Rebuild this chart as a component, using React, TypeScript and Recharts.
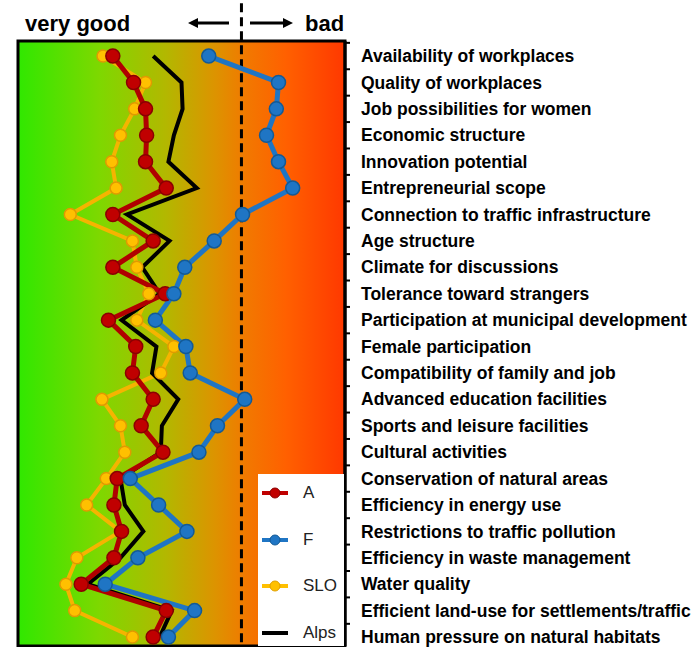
import React from 'react';
import { LineChart, Line, XAxis, YAxis, ReferenceArea, ReferenceLine, Legend, Customized } from 'recharts';

const categories = [
  'Availability of workplaces',
  'Quality of workplaces',
  'Job possibilities for women',
  'Economic structure',
  'Innovation potential',
  'Entrepreneurial scope',
  'Connection to traffic infrastructure',
  'Age structure',
  'Climate for discussions',
  'Tolerance toward strangers',
  'Participation at municipal development',
  'Female participation',
  'Compatibility of family and job',
  'Advanced education facilities',
  'Sports and leisure facilities',
  'Cultural activities',
  'Conservation of natural areas',
  'Efficiency in energy use',
  'Restrictions to traffic pollution',
  'Efficiency in waste management',
  'Water quality',
  'Efficient land-use for settlements/traffic',
  'Human pressure on natural habitats',
];

const seriesA = [1.87, 2.06, 2.17, 2.18, 2.17, 2.36, 1.87, 2.24, 1.87, 2.35, 1.83, 2.08, 2.05, 2.24, 2.13, 2.33, 1.91, 1.88, 1.95, 1.88, 1.58, 2.36, 2.24];
const seriesF = [2.75, 3.39, 3.37, 3.28, 3.39, 3.52, 3.06, 2.8, 2.53, 2.43, 2.26, 2.54, 2.58, 3.08, 2.83, 2.66, 2.03, 2.29, 2.55, 2.1, 1.8, 2.62, 2.38];
const seriesSLO = [1.78, 2.17, 2.07, 1.94, 1.86, 1.9, 1.48, 2.05, 2.09, 2.2, 2.09, 2.43, 2.31, 1.77, 1.94, 1.98, 1.81, 1.63, 1.94, 1.54, 1.44, 1.52, 2.05];
const seriesAlps = [2.24, 2.5, 2.51, 2.43, 2.38, 2.64, 2.0, 2.39, 2.14, 2.3, 1.95, 2.27, 2.23, 2.47, 2.32, 2.31, 1.94, 1.98, 2.15, 1.94, 1.64, 2.41, 2.3];

const xDomain: [number, number] = [1, 4];
const threshold = 3.05;
const headerLeft = 'very good';
const headerRight = 'bad';

const data = categories.map((label, i) => ({
  pos: i + 1,
  label,
  A: seriesA[i],
  F: seriesF[i],
  SLO: seriesSLO[i],
  Alps: seriesAlps[i],
}));

const ticks: number[] = [];
categories.forEach((_, i) => {
  ticks.push(i + 0.5);
  ticks.push(i + 1);
});

const legendItems = [
  { name: 'A', color: '#c00000', stroke: '#8a0000', marker: true },
  { name: 'F', color: '#1f75c4', stroke: '#135a96', marker: true },
  { name: 'SLO', color: '#ffc000', stroke: '#e0a000', marker: true },
  { name: 'Alps', color: '#000000', stroke: '#000000', marker: false },
];

const RightTick = (props: any) => {
  const { x, y, payload } = props;
  const v = payload.value;
  if (Math.abs(v - Math.round(v)) > 0.01) {
    return <line x1={x} y1={y} x2={x + 5} y2={y} stroke="#000" strokeWidth={2} />;
  }
  const label = categories[Math.round(v) - 1] ?? '';
  return (
    <text
      x={x + 16}
      y={y}
      dy="0.35em"
      textAnchor="start"
      fontFamily="'Liberation Sans', Arial, sans-serif"
      fontWeight={700}
      fontSize={17.5}
      fill="#000"
    >
      {label}
    </text>
  );
};

const GradientShape = (props: any) => {
  const { x, y, width, height } = props;
  return (
    <g>
      <defs>
        <linearGradient id="bgGrad" x1="0" y1="0" x2="1" y2="0">
          <stop offset="0" stopColor="#30e800" />
          <stop offset="0.25" stopColor="#7ed800" />
          <stop offset="0.45" stopColor="#b2b800" />
          <stop offset="0.6" stopColor="#dc9400" />
          <stop offset="0.7" stopColor="#f27800" />
          <stop offset="0.82" stopColor="#ff6000" />
          <stop offset="1" stopColor="#ff3800" />
        </linearGradient>
      </defs>
      <rect x={x} y={y} width={width} height={height} fill="url(#bgGrad)" />
    </g>
  );
};

const FrameShape = (props: any) => {
  const { x, y, width, height } = props;
  return <rect x={x} y={y} width={width} height={height} fill="none" stroke="#000" strokeWidth={3} />;
};

const Header = () => (
  <g>
    <text x={25} y={31} fontFamily="'Liberation Sans', Arial, sans-serif" fontWeight={700} fontSize={22} fill="#000">
      {headerLeft}
    </text>
    <text x={305} y={31} fontFamily="'Liberation Sans', Arial, sans-serif" fontWeight={700} fontSize={22} fill="#000">
      {headerRight}
    </text>
    <line x1={196} y1={23} x2={229} y2={23} stroke="#000" strokeWidth={3} />
    <polygon points="188,23 198,18 198,28" fill="#000" />
    <line x1={250} y1={23} x2={284} y2={23} stroke="#000" strokeWidth={3} />
    <polygon points="293,23 283,18 283,28" fill="#000" />
  </g>
);

const LegendContent = () => (
  <div style={{ position: 'relative', width: 86, height: 172, background: '#fff' }}>
    {legendItems.map((it, i) => (
      <div
        key={it.name}
        style={{ position: 'absolute', left: 0, top: 19 + i * 46.7 - 12, height: 24, display: 'flex', alignItems: 'center' }}
      >
        <svg width={34} height={24} style={{ display: 'block' }}>
          <line x1={4} y1={12} x2={30} y2={12} stroke={it.color} strokeWidth={4} />
          {it.marker && <circle cx={17} cy={12} r={5} fill={it.color} stroke={it.stroke} strokeWidth={1} />}
        </svg>
        <span
          style={{
            marginLeft: 11,
            fontFamily: "'Liberation Sans', Arial, sans-serif",
            fontSize: 17,
            color: '#222',
            lineHeight: '24px',
          }}
        >
          {it.name}
        </span>
      </div>
    ))}
  </div>
);

export default function App() {
  return (
    <div style={{ position: 'absolute', left: 0, top: 0, width: 695, height: 647, background: '#fff' }}>
      <LineChart
        width={695}
        height={647}
        data={data}
        layout="vertical"
        margin={{ top: 41, right: 10, bottom: 1, left: 18 }}
      >
        <XAxis type="number" dataKey="A" domain={xDomain} hide allowDataOverflow />
        <YAxis
          type="number"
          dataKey="pos"
          orientation="right"
          domain={[0.43, 23.34]}
          allowDataOverflow
          ticks={ticks}
          interval={0}
          width={340}
          tickSize={0}
          tickMargin={0}
          tickLine={false}
          axisLine={{ stroke: '#000', strokeWidth: 3 }}
          tick={<RightTick />}
        />
        <ReferenceArea x1={xDomain[0]} x2={xDomain[1]} shape={<GradientShape />} ifOverflow="visible" />
        <ReferenceLine
          segment={[{ x: threshold, y: -1.0 }, { x: threshold, y: 23.34 }]}
          stroke="#000"
          strokeWidth={3}
          strokeDasharray="9 5"
          ifOverflow="visible"
        />
        <Line
          dataKey="SLO"
          stroke="#f5b400"
          strokeWidth={4}
          dot={{ r: 6, fill: '#ffc000', stroke: '#e09a00', strokeWidth: 1.5 }}
          isAnimationActive={false}
        />
        <Line dataKey="Alps" stroke="#000" strokeWidth={4} dot={false} isAnimationActive={false} />
        <Line
          dataKey="A"
          stroke="#b00000"
          strokeWidth={5}
          dot={{ r: 7, fill: '#c00000', stroke: '#8a0000', strokeWidth: 1.5 }}
          isAnimationActive={false}
        />
        <Line
          dataKey="F"
          stroke="#1f75c4"
          strokeWidth={5}
          dot={{ r: 7, fill: '#1f75c4', stroke: '#135a96', strokeWidth: 1.5 }}
          isAnimationActive={false}
        />
        <ReferenceArea x1={xDomain[0]} x2={xDomain[1]} shape={<FrameShape />} ifOverflow="visible" />
        <Legend
          layout="vertical"
          align="center"
          verticalAlign="middle"
          content={<LegendContent />}
          wrapperStyle={{ position: 'absolute', left: 258, top: 474, width: 86, height: 172 }}
        />
        <Customized component={<Header />} />
      </LineChart>
    </div>
  );
}
